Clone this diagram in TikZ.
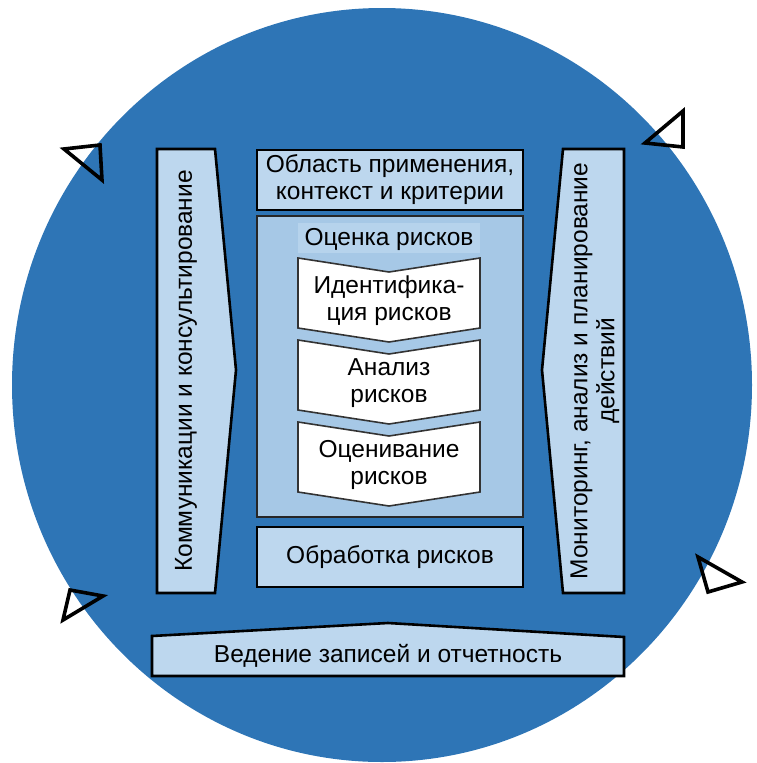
\documentclass[tikz,border=0pt]{standalone}
\usepackage{fontspec}
\setmainfont{Liberation Sans}
\definecolor{bigblue}{RGB}{46,117,182}
\definecolor{lightbox}{RGB}{189,215,238}
\definecolor{midbox}{RGB}{166,200,230}
\definecolor{titlebg}{RGB}{182,211,236}
\tikzset{
  boxshape/.style={draw=black, line width=2.6pt, fill=lightbox, line join=miter},
  midshape/.style={draw=black!85, line width=2pt, fill=midbox},
  chevshape/.style={draw=black!80, line width=1.6pt, fill=white, line join=miter},
  tri/.style={draw=black, line width=3.6pt, line join=miter},
  lbl/.style={font=\fontsize{24.5}{27}\selectfont, align=center, inner sep=0pt},
}
\begin{document}
\begin{tikzpicture}[x=1pt,y=-1pt]
\useasboundingbox (0,0) rectangle (756,763);
% big circle
\fill[bigblue] (382,385) ellipse [x radius=370pt, y radius=377pt];
% rotating triangles
\draw[tri] (64,149) -- (100,145) -- (102,180) -- cycle;
\draw[tri] (645,143) -- (683,111) -- (683,147) -- cycle;
\draw[tri] (70,590) -- (103,596) -- (63,620) -- cycle;
\draw[tri] (698,557) -- (742,582) -- (708,592) -- cycle;
% left pentagon
\draw[boxshape] (157,149) -- (215,149) -- (236,370) -- (215,593) -- (157,593) -- cycle;
\node[lbl, rotate=90] (comm) at (186,371) {Коммуникации и консультирование};
% right pentagon
\draw[boxshape] (563,149) -- (624,149) -- (624,593) -- (563,593) -- (542,370) -- cycle;
\node[lbl, rotate=90] (mon) at (595,371) {Мониторинг, анализ и планирование\\действий};
% scope box
\draw[boxshape] (257,150) rectangle (523,210);
\node[lbl] (scope) at (390,180) {Область применения,\\контекст и критерии};
% assessment box
\draw[midshape] (257,216) rectangle (523,517);
\fill[titlebg] (298,223) rectangle (480,253);
\node[lbl] (assess) at (389,239) {Оценка рисков};
% chevrons
\foreach \t/\nm in {258/ident,340/anal,422/eval}{
  \draw[chevshape] (298,\t) -- (389,\t+14) -- (480,\t) -- (480,\t+70) -- (389,\t+84) -- (298,\t+70) -- cycle;
}
\node[lbl] (ident) at (389,301) {Идентифика-\\ция рисков};
\node[lbl] (anal) at (389,383) {Анализ\\рисков};
\node[lbl] (eval) at (389,465) {Оценивание\\рисков};
% treatment
\draw[boxshape] (257,527) rectangle (523,587);
\node[lbl] (treat) at (390,557) {Обработка рисков};
% recording
\draw[boxshape] (152,676) -- (152,636) -- (388,623) -- (624,637) -- (624,676) -- cycle;
\node[lbl] (rec) at (388,656) {Ведение записей и отчетность};
\end{tikzpicture}
\end{document}
